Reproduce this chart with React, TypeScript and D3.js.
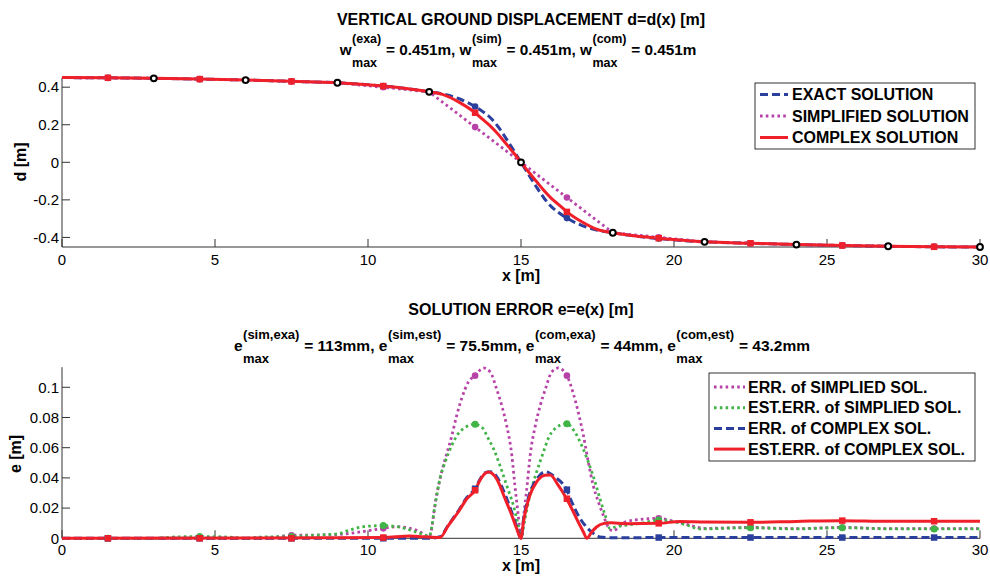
import React from 'react';
import * as d3 from 'd3';

const FONT = '"Liberation Sans", Arial, Helvetica, sans-serif';

// ---------- axes ----------
const xTicks = [0, 5, 10, 15, 20, 25, 30];
const dTicks = [-0.4, -0.2, 0, 0.2, 0.4];
const eTicks = [0, 0.02, 0.04, 0.06, 0.08, 0.1];
const eTickLabels = ['0', '0.02', '0.04', '0.06', '0.08', '0.1'];

// ---------- top: displacement ----------
const midX = [1.5, 4.5, 7.5, 10.5, 13.5, 16.5, 19.5, 22.5, 25.5, 28.5];
const nodeX = [3, 6, 9, 12, 15, 18, 21, 24, 27, 30];
const nodeD = [0.447, 0.438, 0.4235, 0.375, 0, -0.375, -0.4235, -0.438, -0.447, -0.451];

const exactX = [0, 1.5, 3, 4.5, 6, 7.5, 9, 10.5, 11.25, 12, 12.5, 13, 13.5, 13.75, 14, 14.25, 14.5, 14.75, 15, 15.25, 15.5, 15.75, 16, 16.25, 16.5, 17, 17.5, 18, 18.75, 19.5, 21, 22.5, 24, 25.5, 27, 28.5, 30];
const exactD = [0.451, 0.45, 0.447, 0.443, 0.438, 0.431, 0.4235, 0.406, 0.393, 0.375, 0.362, 0.337, 0.297, 0.27, 0.237, 0.19, 0.13, 0.066, 0, -0.066, -0.13, -0.19, -0.237, -0.27, -0.297, -0.337, -0.362, -0.375, -0.393, -0.406, -0.4235, -0.431, -0.438, -0.443, -0.447, -0.45, -0.451];
const complexD = [0.451, 0.45, 0.447, 0.443, 0.438, 0.431, 0.4235, 0.406, 0.393, 0.375, 0.358, 0.318, 0.264, 0.228, 0.193, 0.15, 0.101, 0.052, 0, -0.052, -0.101, -0.15, -0.193, -0.228, -0.264, -0.318, -0.358, -0.375, -0.392, -0.404, -0.4235, -0.431, -0.438, -0.443, -0.447, -0.45, -0.451];
const simplX = [0, 3, 6, 9, 12, 15, 18, 21, 24, 27, 30];
const simplD = [0.451, 0.447, 0.438, 0.4235, 0.375, 0, -0.375, -0.4235, -0.438, -0.447, -0.451];

const exactMarks = [0.45, 0.443, 0.431, 0.406, 0.297, -0.297, -0.406, -0.431, -0.443, -0.45];
const simplMarks = [0.449, 0.4425, 0.4308, 0.3993, 0.1875, -0.1875, -0.3993, -0.4308, -0.4425, -0.449];
const complexMarks = [0.45, 0.443, 0.431, 0.406, 0.264, -0.264, -0.404, -0.431, -0.443, -0.45];

// ---------- bottom: errors ----------
const errSimPts: [number, number][] = [
  [0, 0], [6.8, 0], [7.2, 0.0015], [7.5, 0.002], [8.5, 0.0022], [9, 0.0025], [9.85, 0.0045], [10.5, 0.0066], [10.94, 0.0077], [11.37, 0.0066], [11.6, 0.0053], [11.8, 0.003], [12, 0.001],
  [12.24, 0.0285], [12.41, 0.044], [12.74, 0.068], [12.9, 0.0814], [13.06, 0.0925], [13.28, 0.1035], [13.5, 0.1077], [13.77, 0.1128], [14.0, 0.11], [14.2, 0.099], [14.37, 0.088], [14.53, 0.0748], [14.7, 0.055], [14.8, 0.035], [14.91, 0.0152], [15, 0],
  [15.09, 0.0152], [15.2, 0.035], [15.3, 0.055], [15.47, 0.0748], [15.63, 0.088], [15.8, 0.099], [16.0, 0.11], [16.22, 0.1128], [16.5, 0.1077], [16.71, 0.0958], [16.87, 0.0836], [17.04, 0.068], [17.2, 0.0505], [17.36, 0.035], [17.53, 0.024], [17.69, 0.0152], [17.85, 0.0075], [18.0, 0.005],
  [18.4, 0.0108], [18.9, 0.0125], [19.5, 0.0132], [20, 0.0112], [20.5, 0.0088], [21, 0.0066], [22.5, 0.0072], [24, 0.0064], [25.5, 0.0072], [27, 0.0064], [28.5, 0.0064], [30, 0.0064],
];
const estErrSimPts: [number, number][] = [
  [0, 0], [3, 0], [3.6, 0.0008], [4.5, 0.0012], [5.4, 0.0008], [6, 0], [6.5, 0.0008], [7.5, 0.0012], [8.3, 0.002], [8.76, 0.0026], [9.08, 0.0033], [9.41, 0.0055], [9.85, 0.0077], [10.5, 0.0084], [10.94, 0.0077], [11.37, 0.0055], [11.7, 0.0033], [12, 0.0015],
  [12.19, 0.0218], [12.35, 0.0395], [12.52, 0.0505], [12.74, 0.0616], [12.95, 0.0693], [13.17, 0.0733], [13.47, 0.0755], [13.77, 0.0726], [13.88, 0.068], [14.1, 0.0594], [14.31, 0.0483], [14.53, 0.0351], [14.75, 0.0219], [14.91, 0.0086], [15, 0],
  [15.13, 0.013], [15.29, 0.0285], [15.51, 0.0439], [15.73, 0.057], [15.89, 0.066], [16.11, 0.0726], [16.49, 0.0759], [16.76, 0.0704], [16.98, 0.0616], [17.2, 0.0505], [17.42, 0.0373], [17.58, 0.0262], [17.75, 0.0152], [17.91, 0.0064],
  [18.07, 0.0075], [18.4, 0.0086], [18.89, 0.0099], [19.54, 0.0121], [19.98, 0.011], [20.41, 0.0088], [20.85, 0.0062], [22.46, 0.007], [23.9, 0.0062], [25.46, 0.007], [27.2, 0.0062], [28.47, 0.0062], [30, 0.0062],
];
const errComPts: [number, number][] = [
  [0, 0], [12, 0], [12.35, 0.001], [12.63, 0.009], [12.95, 0.018], [13.23, 0.027], [13.5, 0.0328], [13.66, 0.039], [13.82, 0.0433], [14.0, 0.0441], [14.2, 0.041], [14.48, 0.029], [14.7, 0.017], [14.86, 0.0075], [15, 0],
  [15.08, 0.012], [15.29, 0.03], [15.51, 0.039], [15.8, 0.0441], [16.11, 0.0406], [16.49, 0.0322], [16.66, 0.024], [16.87, 0.0152], [17.09, 0.0086], [17.31, 0.0042], [17.58, 0.0009], [18, 0.0003], [19.5, 0.0005], [30, 0.0005],
];
const estErrComPts: [number, number][] = [
  [0, 0], [9, 0.0003], [10.5, 0.0005], [11.37, 0.0015], [11.8, 0.001], [12.35, 0.0005], [12.63, 0.0086], [12.95, 0.0174], [13.23, 0.0262], [13.5, 0.0318], [13.66, 0.0384], [13.82, 0.0428], [13.93, 0.0439], [14.2, 0.0395], [14.48, 0.0262], [14.7, 0.0152], [14.86, 0.0064], [15, 0],
  [15.08, 0.0108], [15.29, 0.0285], [15.51, 0.0373], [15.78, 0.0417], [15.95, 0.0419], [16.22, 0.035], [16.49, 0.0262], [16.66, 0.0196], [16.87, 0.0108], [17.04, 0.0042], [17.15, 0], [17.31, 0.0042], [17.47, 0.0075], [17.69, 0.0097], [17.96, 0.0103], [18.4, 0.0097],
  [19.5, 0.0099], [20.2, 0.0112], [21, 0.0108], [22.46, 0.0106], [24, 0.0112], [25.46, 0.0117], [27, 0.0113], [28.47, 0.0113], [30, 0.0113],
];
const errSimMarks = [0, 0.0005, 0.002, 0.0066, 0.1077, 0.1077, 0.0132, 0.0072, 0.0072, 0.0064];
const estErrSimMarks = [0, 0.0012, 0.0012, 0.0084, 0.0755, 0.0759, 0.0121, 0.007, 0.007, 0.0062];
const errComMarks = [0, 0, 0, 0, 0.0328, 0.0322, 0.0005, 0.0005, 0.0005, 0.0005];
const estErrComMarks = [0, 0, 0, 0.0005, 0.0318, 0.0262, 0.0099, 0.0106, 0.0117, 0.0113];

// ---------- texts ----------
const topTitle = 'VERTICAL GROUND DISPLACEMENT d=d(x) [m]';
const topSub = [
  { t: 'w', sup: '(exa)', sub: 'max' },
  { t: ' = 0.451m, w', sup: '(sim)', sub: 'max' },
  { t: ' = 0.451m, w', sup: '(com)', sub: 'max' },
  { t: ' = 0.451m' },
];
const botTitle = 'SOLUTION ERROR e=e(x) [m]';
const botSub = [
  { t: 'e', sup: '(sim,exa)', sub: 'max' },
  { t: ' = 113mm, e', sup: '(sim,est)', sub: 'max' },
  { t: ' = 75.5mm, e', sup: '(com,exa)', sub: 'max' },
  { t: ' = 44mm, e', sup: '(com,est)', sub: 'max' },
  { t: ' = 43.2mm' },
];
const topLegend = ['EXACT SOLUTION', 'SIMPLIFIED SOLUTION', 'COMPLEX SOLUTION'];
const botLegend = ['ERR. of SIMPLIED SOL.', 'EST.ERR. of SIMPLIED SOL.', 'ERR. of COMPLEX SOL.', 'EST.ERR. of COMPLEX SOL.'];

// ---------- styles ----------
const BLUE = '#2b3f9c';
const MAGENTA = '#b843a8';
const GREEN = '#41b447';
const RED = '#f0202a';
const AXIS = '#333';

let ctx: CanvasRenderingContext2D | null = null;
function measure(text: string, size: number): number {
  if (!ctx) ctx = document.createElement('canvas').getContext('2d');
  if (!ctx) return text.length * size * 0.6;
  ctx.font = `bold ${size}px ${FONT}`;
  return ctx.measureText(text).width;
}

type Seg = { t: string; sup?: string; sub?: string };
function RichLine({ segs, cx, y, main, small }: { segs: Seg[]; cx: number; y: number; main: number; small: number }) {
  const parts = segs.map((s) => {
    const wm = measure(s.t, main);
    const ws = s.sup ? Math.max(measure(s.sup, small), measure(s.sub || '', small)) + 1 : 0;
    return { ...s, wm, ws };
  });
  const total = parts.reduce((a, p) => a + p.wm + p.ws, 0);
  let x = cx - total / 2;
  const els: React.ReactNode[] = [];
  parts.forEach((p, i) => {
    els.push(<text key={'m' + i} x={x} y={y} fontSize={main} style={{ whiteSpace: 'pre' }}>{p.t}</text>);
    x += p.wm;
    if (p.sup) {
      els.push(<text key={'p' + i} x={x + 0.5} y={y - 12} fontSize={small}>{p.sup}</text>);
      els.push(<text key={'b' + i} x={x + 0.5} y={y + 12} fontSize={small}>{p.sub}</text>);
      x += p.ws;
    }
  });
  return <g fontWeight="bold" fill="#000">{els}</g>;
}

const x = d3.scaleLinear().domain([0, 30]).range([62, 980]);
const yD = d3.scaleLinear().domain([-0.451, 0.451]).range([247, 77.6]);
const yE = d3.scaleLinear().domain([0, 0.1133]).range([538.3, 367.2]);

function pathOf(xs: number[], ys: number[], ys2: d3.ScaleLinear<number, number>, curve: d3.CurveFactory) {
  const line = d3.line<number>().x((_, i) => x(xs[i])).y((v) => ys2(v)).curve(curve);
  return line(ys) || '';
}
function pathPts(pts: [number, number][]) {
  const line = d3.line<[number, number]>().x((p) => x(p[0])).y((p) => yE(p[1])).curve(d3.curveMonotoneX);
  return line(pts) || '';
}

function Axes({ y, ticks, labels, xLabelY, yTop }: { y: d3.ScaleLinear<number, number>; ticks: number[]; labels: string[]; xLabelY: number; yTop: number }) {
  const y0 = y.range()[0];
  return (
    <g>
      <line x1={62} x2={62} y1={yTop} y2={y0} stroke={AXIS} strokeWidth={1} />
      <line x1={62} x2={980} y1={y0} y2={y0} stroke={AXIS} strokeWidth={1} />
      {xTicks.map((t) => (
        <g key={'x' + t}>
          <line x1={x(t)} x2={x(t)} y1={y0} y2={y0 - 8} stroke={AXIS} strokeWidth={1} />
          <text x={x(t)} y={xLabelY} textAnchor="middle" fontSize={15}>{t}</text>
        </g>
      ))}
      {ticks.map((t, i) => (
        <g key={'y' + t}>
          <line x1={62} x2={70} y1={y(t)} y2={y(t)} stroke={AXIS} strokeWidth={1} />
          <text x={59} y={y(t) + 5.3} textAnchor="end" fontSize={15}>{labels[i]}</text>
        </g>
      ))}
    </g>
  );
}

function Square({ cx, cy, c, s = 6.5 }: { cx: number; cy: number; c: string; s?: number }) {
  return <rect x={cx - s / 2} y={cy - s / 2} width={s} height={s} fill={c} />;
}

export default function App() {
  const blueDash = '8,4';
  const dots = '2.6,3.2';
  return (
    <svg width={990} height={576} style={{ position: 'absolute', left: 0, top: 0, background: '#fff' }} fontFamily={FONT}>
      <rect x={0} y={0} width={990} height={576} fill="#fff" />
      {/* ---------------- TOP ---------------- */}
      <text x={521} y={25} textAnchor="middle" fontSize={16} fontWeight="bold">{topTitle}</text>
      <RichLine segs={topSub} cx={518} y={55} main={15.3} small={12.5} />
      <Axes y={yD} ticks={dTicks} labels={dTicks.map((t) => String(t))} xLabelY={265} yTop={77.6} />
      <text x={521} y={281} textAnchor="middle" fontSize={16} fontWeight="bold">x [m]</text>
      <text transform="translate(26,162) rotate(-90)" textAnchor="middle" fontSize={16} fontWeight="bold">d [m]</text>

      <path d={pathOf(exactX, exactD, yD, d3.curveMonotoneX)} fill="none" stroke={BLUE} strokeWidth={3} strokeDasharray={blueDash} />
      <path d={pathOf(simplX, simplD, yD, d3.curveLinear)} fill="none" stroke={MAGENTA} strokeWidth={2.8} strokeDasharray={dots} />
      <path d={pathOf(exactX, complexD, yD, d3.curveMonotoneX)} fill="none" stroke={RED} strokeWidth={3} />
      {midX.map((m, i) => <circle key={'eb' + i} cx={x(m)} cy={yD(exactMarks[i])} r={3.3} fill={BLUE} />)}
      {midX.map((m, i) => <circle key={'sm' + i} cx={x(m)} cy={yD(simplMarks[i])} r={3.3} fill={MAGENTA} />)}
      {midX.map((m, i) => <Square key={'cr' + i} cx={x(m)} cy={yD(complexMarks[i])} c={RED} />)}
      {nodeX.map((m, i) => <circle key={'nd' + i} cx={x(m)} cy={yD(nodeD[i])} r={2.9} fill="#fff" stroke="#000" strokeWidth={2} />)}

      <g>
        <rect x={755} y={83} width={220} height={66} fill="#fff" stroke={AXIS} strokeWidth={1} />
        {topLegend.map((l, i) => {
          const cy = 94.5 + i * 21.5;
          const st = [{ s: BLUE, d: blueDash }, { s: MAGENTA, d: dots }, { s: RED, d: undefined }][i];
          return (
            <g key={l}>
              <line x1={760} x2={788} y1={cy} y2={cy} stroke={st.s} strokeWidth={3} strokeDasharray={st.d} />
              <text x={792} y={cy + 5.7} fontSize={16} fontWeight="bold">{l}</text>
            </g>
          );
        })}
      </g>

      {/* ---------------- BOTTOM ---------------- */}
      <text x={521} y={315} textAnchor="middle" fontSize={16} fontWeight="bold">{botTitle}</text>
      <RichLine segs={botSub} cx={522} y={351} main={15.5} small={13} />
      <Axes y={yE} ticks={eTicks} labels={eTickLabels} xLabelY={555} yTop={367.2} />
      <text x={521} y={571} textAnchor="middle" fontSize={16} fontWeight="bold">x [m]</text>
      <text transform="translate(21,454) rotate(-90)" textAnchor="middle" fontSize={16} fontWeight="bold">e [m]</text>

      <path d={pathPts(errSimPts)} fill="none" stroke={MAGENTA} strokeWidth={2.8} strokeDasharray={dots} />
      <path d={pathPts(estErrSimPts)} fill="none" stroke={GREEN} strokeWidth={2.8} strokeDasharray={dots} />
      <path d={pathPts(errComPts)} fill="none" stroke={BLUE} strokeWidth={3} strokeDasharray={blueDash} />
      <path d={pathPts(estErrComPts)} fill="none" stroke={RED} strokeWidth={3} />
      {midX.map((m, i) => <circle key={'m1' + i} cx={x(m)} cy={yE(errSimMarks[i])} r={3.3} fill={MAGENTA} />)}
      {midX.map((m, i) => <circle key={'m2' + i} cx={x(m)} cy={yE(estErrSimMarks[i])} r={3.5} fill={GREEN} />)}
      {midX.map((m, i) => <Square key={'m3' + i} cx={x(m)} cy={yE(errComMarks[i])} c={BLUE} />)}
      {midX.map((m, i) => <Square key={'m4' + i} cx={x(m)} cy={yE(estErrComMarks[i])} c={RED} />)}

      <g>
        <rect x={709} y={373} width={266} height={88} fill="#fff" stroke={AXIS} strokeWidth={1} />
        {botLegend.map((l, i) => {
          const cy = 387 + i * 20.7;
          const st = [{ s: MAGENTA, d: dots }, { s: GREEN, d: dots }, { s: BLUE, d: blueDash }, { s: RED, d: undefined }][i];
          return (
            <g key={l}>
              <line x1={714} x2={745} y1={cy} y2={cy} stroke={st.s} strokeWidth={3} strokeDasharray={st.d} />
              <text x={748} y={cy + 5.7} fontSize={16} fontWeight="bold">{l}</text>
            </g>
          );
        })}
      </g>
    </svg>
  );
}
